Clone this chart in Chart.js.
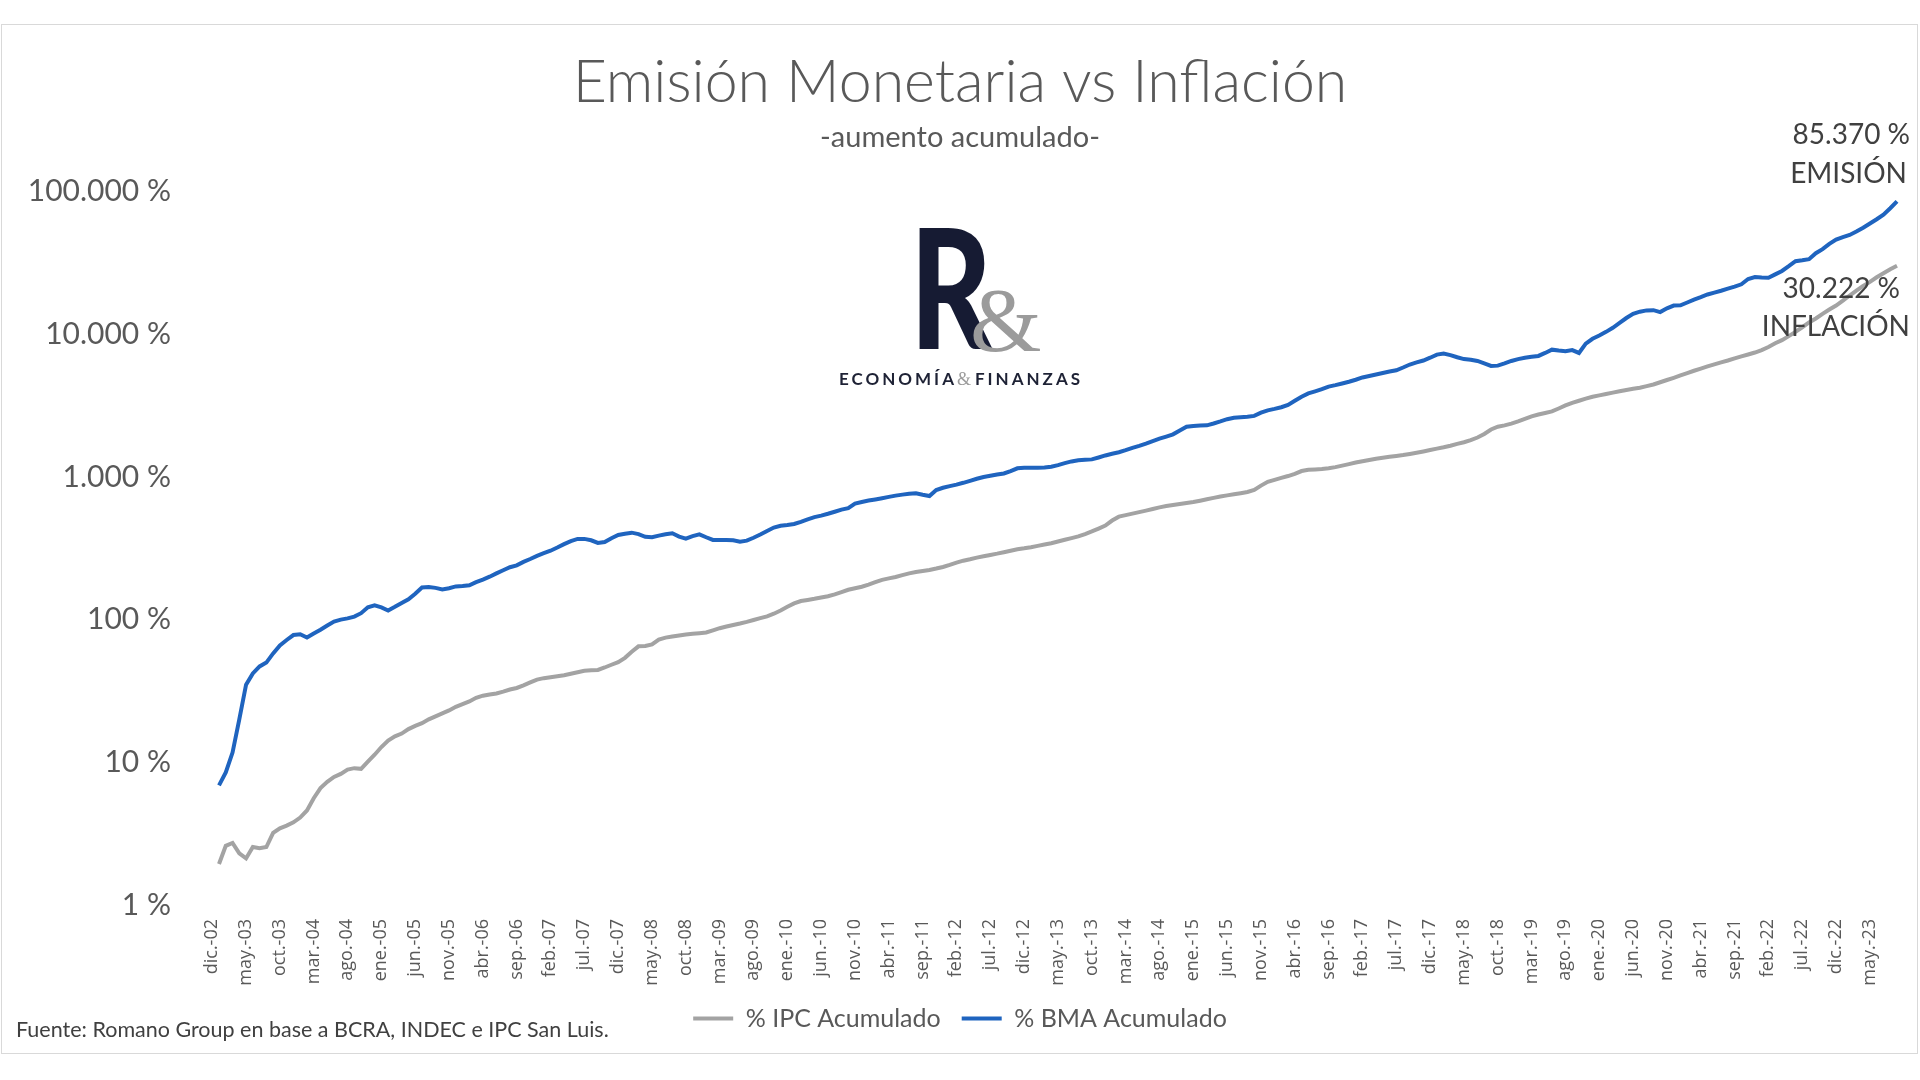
<!DOCTYPE html>
<html lang="es">
<head>
<meta charset="utf-8">
<title>Emisión Monetaria vs Inflación</title>
<script src="https://cdn.jsdelivr.net/npm/chart.js@4.4.1/dist/chart.umd.min.js"></script>
<style>
  html, body { margin: 0; padding: 0; background: #ffffff; }
  #wrap { width: 1920px; height: 1080px; }
</style>
</head>
<body>
<div id="wrap"><canvas id="emisionChart" width="1920" height="1080"></canvas></div>
<script>
// month names used for the x categories (dic.-02 ... ago.-23)
const monthNames = ['ene.', 'feb.', 'mar.', 'abr.', 'may.', 'jun.', 'jul.', 'ago.', 'sep.', 'oct.', 'nov.', 'dic.'];
const startYear = 2002;
const startMonth = 11; // dic.
const labelEvery = 5;

// % IPC acumulado (monthly, from dic.-02)
const ipc = [
  1.94, 2.6, 2.72, 2.3, 2.12, 2.55, 2.5, 2.55, 3.2, 3.45,
  3.6, 3.8, 4.1, 4.6, 5.6, 6.6, 7.3, 7.9, 8.3, 8.9,
  9.1, 9.0, 10.1, 11.3, 12.8, 14.2, 15.2, 15.9, 17.1, 18.0,
  18.8, 20.0, 21.0, 22.0, 23.1, 24.5, 25.6, 26.7, 28.3, 29.3,
  29.9, 30.4, 31.3, 32.4, 33.2, 34.6, 36.3, 38.0, 38.9, 39.5,
  40.1, 40.8, 41.8, 42.8, 43.8, 44.2, 44.4, 46.2, 48.3, 50.4,
  54.0, 59.5, 65, 65.3, 67, 72.5, 74.8, 76.2, 77.5, 78.6,
  79.6, 80.4, 81.3, 84.2, 87.1, 89.5, 91.8, 94, 96.5, 99.4,
  102.5, 105.5, 110, 116, 123, 130, 135, 137.5, 140, 143,
  146, 150.5, 156, 162, 166, 170, 176, 183, 190, 194.5,
  199, 205, 211, 216, 219.5, 223, 228, 234, 242, 251,
  259, 265, 272, 278, 284, 290, 297, 304, 311, 316,
  322, 329, 336, 343, 353, 363, 373, 383, 398, 415,
  435, 456, 495, 527, 540, 553, 567, 581, 596, 612,
  625, 636, 646, 657, 667, 682, 698, 714, 730, 743,
  757, 770, 785, 810, 870, 925, 955, 985, 1015, 1052,
  1100, 1122, 1130, 1138, 1150, 1172, 1200, 1230, 1262, 1290,
  1316, 1342, 1362, 1384, 1404, 1425, 1450, 1478, 1510, 1545,
  1580, 1615, 1655, 1705, 1750, 1810, 1890, 2000, 2150, 2250,
  2300, 2365, 2450, 2550, 2660, 2740, 2810, 2880, 3020, 3170,
  3310, 3420, 3540, 3650, 3730, 3810, 3900, 3990, 4070, 4150,
  4220, 4330, 4450, 4610, 4780, 4955, 5150, 5340, 5550, 5750,
  5950, 6150, 6350, 6550, 6780, 7000, 7220, 7450, 7750, 8150,
  8650, 9100, 9700, 10400, 11200, 12100, 12900, 13900, 14900, 15900,
  17200, 18700, 20200, 21800, 23300, 25100, 26800, 28600, 30222
];

// % BMA acumulado (base monetaria, monthly, from dic.-02)
const bma = [
  6.9, 8.5, 11.7, 20, 35, 42, 47, 50, 58, 66,
  72, 78, 79, 75, 80, 85, 91, 97, 100, 102,
  105, 111, 122, 126, 122, 116, 123, 131, 139, 152,
  168, 169, 167, 163, 166, 171, 172, 174, 183, 191,
  200, 211, 222, 233, 240, 254, 266, 280, 292, 304,
  320, 338, 355, 368, 368, 360, 345, 350, 372, 392,
  400, 407, 398, 381, 378, 388, 397, 403, 382, 370,
  385, 396, 378, 362, 361, 362, 360, 352, 358, 375,
  395, 418, 442, 455, 460, 468, 485, 505, 523, 536,
  552, 570, 590, 605, 650, 668, 683, 696, 710, 725,
  740, 752, 762, 768, 750, 735, 810, 840, 862, 884,
  910, 940, 972, 1000, 1020, 1040, 1058, 1100, 1150, 1162,
  1160, 1158, 1165, 1180, 1210, 1250, 1285, 1310, 1320, 1328,
  1370, 1415, 1455, 1490, 1540, 1600, 1650, 1710, 1780, 1855,
  1920, 1990, 2120, 2250, 2280, 2295, 2300, 2370, 2450, 2540,
  2600, 2620, 2640, 2680, 2820, 2930, 3000, 3080, 3200, 3420,
  3650, 3850, 3980, 4120, 4300, 4400, 4520, 4650, 4800, 4980,
  5100, 5220, 5350, 5480, 5590, 5850, 6140, 6350, 6550, 6850,
  7200, 7340, 7150, 6900, 6700, 6620, 6500, 6250, 6000, 6030,
  6250, 6500, 6700, 6850, 6950, 7050, 7400, 7800, 7700, 7620,
  7750, 7400, 8600, 9300, 9800, 10400, 11100, 12000, 13000, 13900,
  14400, 14700, 14750, 14300, 15200, 15900, 15950, 16700, 17500, 18200,
  19000, 19600, 20200, 20900, 21600, 22400, 24400, 25200, 25000, 24900,
  26300, 27800, 30000, 32500, 33000, 33600, 37000, 39500, 43000, 46100,
  48000, 49700, 52500, 55800, 59800, 64000, 69000, 76500, 85370
];

// y axis tick labels (log scale)
const yTicks = [1, 10, 100, 1000, 10000, 100000];

// build the month categories
const categories = [];
for (let i = 0; i < bma.length; i++) {
  const m = (startMonth + i) % 12;
  const y = startYear + Math.floor((startMonth + i) / 12);
  categories.push(monthNames[m] + '-' + String(y % 100).padStart(2, '0'));
}

function fmtMiles(v) {
  return String(Math.round(v)).replace(/\B(?=(\d{3})+(?!\d))/g, '.');
}

const grey = '#a3a3a3';
const blue = '#1f64bf';
const textGrey = '#595959';
const textDark = '#404040';

Chart.defaults.font.family = 'Lato, "Open Sans", sans-serif';
Chart.defaults.color = textGrey;

// frame, logo, source and end labels
const decorPlugin = {
  id: 'decor',
  beforeDraw(chart) {
    const ctx = chart.ctx;
    ctx.save();
    ctx.fillStyle = '#ffffff';
    ctx.fillRect(0, 0, chart.width, chart.height);
    ctx.strokeStyle = '#d9d9d9';
    ctx.lineWidth = 1;
    ctx.strokeRect(1.5, 24.5, 1916, 1029);
    ctx.restore();
  },
  beforeDatasetsDraw(chart) {
    const ctx = chart.ctx;
    ctx.save();
    // big R
    ctx.fillStyle = '#161b33';
    ctx.font = '900 166px Lato';
    ctx.textBaseline = 'alphabetic';
    ctx.translate(910, 349);
    ctx.scale(0.76, 1);
    ctx.fillText('R', 0, 0);
    ctx.restore();

    ctx.save();
    ctx.fillStyle = '#9b9b9b';
    ctx.font = '400 92px "Liberation Serif", "DejaVu Serif", serif';
    ctx.textBaseline = 'alphabetic';
    ctx.fillText('&', 970, 351);
    ctx.restore();

    // ECONOMÍA & FINANZAS
    ctx.save();
    ctx.textBaseline = 'alphabetic';
    ctx.font = '700 17px Lato';
    ctx.letterSpacing = '3px';
    const w1 = ctx.measureText('ECONOMÍA').width;
    const w3 = ctx.measureText('FINANZAS').width;
    ctx.font = '400 18px "Liberation Serif", serif';
    ctx.letterSpacing = '0px';
    const w2 = ctx.measureText('&').width + 4;
    let x = 961 - (w1 + w2 + w3) / 2;
    ctx.font = '700 17px Lato';
    ctx.letterSpacing = '3px';
    ctx.fillStyle = '#1e2235';
    ctx.fillText('ECONOMÍA', x, 385);
    x += w1;
    ctx.font = '400 18px "Liberation Serif", serif';
    ctx.letterSpacing = '0px';
    ctx.fillStyle = '#9b9b9b';
    ctx.fillText('&', x, 385);
    x += w2;
    ctx.font = '700 17px Lato';
    ctx.letterSpacing = '3px';
    ctx.fillStyle = '#1e2235';
    ctx.fillText('FINANZAS', x, 385);
    ctx.restore();
  },
  afterDatasetsDraw(chart) {
    const ctx = chart.ctx;
    ctx.save();
    ctx.fillStyle = textDark;
    ctx.textBaseline = 'middle';

    // source note
    ctx.font = '400 21.5px Lato';
    ctx.textAlign = 'left';
    ctx.fillText('Fuente: Romano Group en base a BCRA, INDEC e IPC San Luis.', 16, 1030);

    // last values
    ctx.font = '400 28px Lato';
    ctx.textAlign = 'right';
    const bmaMeta = chart.getDatasetMeta(1).data;
    const ipcMeta = chart.getDatasetMeta(0).data;
    const pb = bmaMeta[bmaMeta.length - 1];
    const pi = ipcMeta[ipcMeta.length - 1];
    ctx.fillText(fmtMiles(bma[bma.length - 1]) + ' %', pb.x + 13, pb.y - 66);
    ctx.fillText('EMISIÓN', pb.x + 10, pb.y - 27);
    ctx.fillText(fmtMiles(ipc[ipc.length - 1]) + ' %', pi.x + 3, pi.y + 23);
    ctx.fillText('INFLACIÓN', pi.x + 13, pi.y + 61);
    ctx.restore();
  }
};

const ctx = document.getElementById('emisionChart').getContext('2d');
const emisionChart = new Chart(ctx, {
  type: 'line',
  data: {
    labels: categories,
    datasets: [{
      label: '% IPC Acumulado',
      data: ipc,
      borderColor: grey,
      backgroundColor: grey,
      borderWidth: 4,
      pointRadius: 0,
      tension: 0
    }, {
      label: '% BMA Acumulado',
      data: bma,
      borderColor: blue,
      backgroundColor: blue,
      borderWidth: 4,
      pointRadius: 0,
      tension: 0
    }]
  },
  options: {
    responsive: false,
    animation: false,
    layout: {
      padding: { top: 30, left: 23, right: 23, bottom: 39 }
    },
    plugins: {
      title: {
        display: true,
        text: 'Emisión Monetaria vs Inflación',
        color: textGrey,
        font: { size: 59, weight: '300' },
        padding: { top: 18, bottom: 0 }
      },
      subtitle: {
        display: true,
        text: '-aumento acumulado-',
        color: textGrey,
        font: { size: 29, weight: '400' },
        padding: { top: 1, bottom: 37 }
      },
      legend: {
        position: 'bottom',
        labels: {
          color: textGrey,
          font: { size: 25 },
          usePointStyle: true,
          pointStyle: 'line',
          pointStyleWidth: 40,
          padding: 21
        }
      },
      tooltip: { enabled: false }
    },
    scales: {
      x: {
        grid: { display: false, drawTicks: false },
        border: { display: false },
        ticks: {
          autoSkip: false,
          minRotation: 90,
          maxRotation: 90,
          padding: 14,
          labelOffset: -7,
          color: textGrey,
          font: { family: '"Open Sans", Lato, sans-serif', size: 18 },
          callback: function(val, index) {
            return index % labelEvery === 0 ? this.getLabelForValue(val) : null;
          }
        },
        afterFit: (scale) => { scale.height = 80; }
      },
      y: {
        type: 'logarithmic',
        min: 1,
        max: 100000,
        grid: { display: false, drawTicks: false },
        border: { display: false },
        afterBuildTicks: (scale) => {
          scale.ticks = yTicks.map(v => ({ value: v }));
        },
        ticks: {
          padding: 48,
          color: textGrey,
          font: { size: 30 },
          callback: (v) => fmtMiles(v) + ' %'
        },
        afterFit: (scale) => { scale.width = 196; }
      }
    }
  },
  plugins: [decorPlugin]
});
</script>
</body>
</html>
